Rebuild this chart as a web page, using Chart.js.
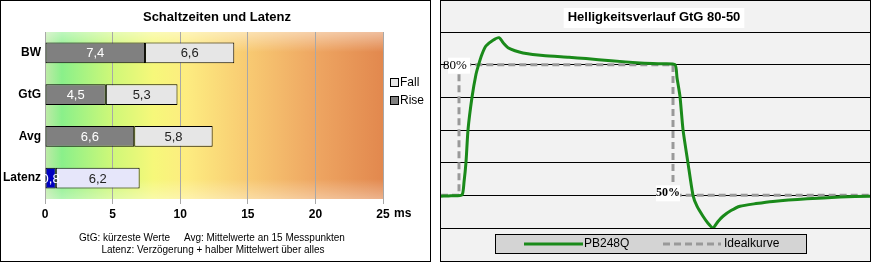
<!DOCTYPE html>
<html>
<head>
<meta charset="utf-8">
<script src="https://cdn.jsdelivr.net/npm/chart.js@4"></script>
<style>
  body { margin: 0; background: #fff; }
  .panel { position: absolute; top: 0; width: 429px; height: 260px; border: 1px solid #000; }
  #left { left: 0; background: #fff; }
  #right { left: 440px; background: #f2f2f2; }
  canvas { display: block; }
</style>
</head>
<body>
<div class="panel" id="left"><canvas id="timesCanvas" width="429" height="260"></canvas></div>
<div class="panel" id="right"><canvas id="curveCanvas" width="429" height="260"></canvas></div>
<script>
// Schaltzeiten (ms)
const categories = ['BW', 'GtG', 'Avg', 'Latenz'];
const riseValues = [7.4, 4.5, 6.6, 0.8];
const fallValues = [6.6, 5.3, 5.8, 6.2];
const xTicks = [0, 5, 10, 15, 20, 25];

// Helligkeitsverlauf (Zeit, Helligkeit in %)
const timeMs = [0, 10, 21, 23, 25, 27, 31, 35, 38, 41, 45, 52, 58, 63, 67, 74, 82, 102, 128, 145, 170, 199, 220, 234,
  236, 239, 242, 247, 252, 256, 262, 267, 272, 277, 282, 290, 299, 315, 332, 366, 399, 429];
const brightness = [49.8, 49.9, 50.1, 53, 57.6, 65, 72.5, 77.8, 80.3, 82.4, 84.3, 85.6, 86.2, 84.8, 83.9, 83.2, 82.7, 82.1, 81.7, 81.4, 80.9, 80.4, 80.2, 80,
  77, 72.7, 65.1, 57.4, 50, 47.5, 45.2, 43.6, 42.5, 44, 45.2, 46.5, 47.5, 48.1, 48.6, 49.2, 49.6, 49.8];
const idealTime = [0, 18, 18, 232, 232, 429];
const idealLevel = [50, 50, 80, 80, 50, 50];

Chart.defaults.font.family = 'Arial, "Liberation Sans", sans-serif';
Chart.defaults.color = '#000';

// ---------- linke Grafik ----------
const barDecor = {
  id: 'barDecor',
  beforeDraw(chart) {
    const { ctx, chartArea: a } = chart;
    const g = ctx.createLinearGradient(a.left, 0, a.right, 0);
    g.addColorStop(0, '#c0eaa8');
    g.addColorStop(0.05, '#8af08a');
    g.addColorStop(0.2, '#cff878');
    g.addColorStop(0.32, '#f6f87a');
    g.addColorStop(0.42, '#fdec80');
    g.addColorStop(0.6, '#f8ca72');
    g.addColorStop(0.8, '#eea662');
    g.addColorStop(1, '#e2884e');
    ctx.save();
    ctx.fillStyle = g;
    ctx.fillRect(a.left, a.top, a.right - a.left, a.bottom - a.top);
    const v = ctx.createLinearGradient(0, a.top, 0, a.bottom);
    v.addColorStop(0, 'rgba(255,255,255,0.45)');
    v.addColorStop(0.12, 'rgba(255,255,255,0)');
    v.addColorStop(0.88, 'rgba(255,255,255,0)');
    v.addColorStop(1, 'rgba(255,255,255,0.35)');
    ctx.fillStyle = v;
    ctx.fillRect(a.left, a.top, a.right - a.left, a.bottom - a.top);
    ctx.restore();
  },
  afterDatasetsDraw(chart) {
    const { ctx } = chart;
    ctx.save();
    ctx.font = '13px Arial, "Liberation Sans"';
    ctx.textAlign = 'center';
    ctx.textBaseline = 'middle';
    chart.data.datasets.forEach((ds, di) => {
      chart.getDatasetMeta(di).data.forEach((el, i) => {
        ctx.fillStyle = di === 0 ? '#fff' : '#222';
        ctx.fillText(String(ds.data[i]).replace('.', ','), (el.x + el.base) / 2, el.y + 1);
      });
    });
    ctx.restore();
  },
  afterDraw(chart) {
    const { ctx, chartArea: a } = chart;
    ctx.save();
    ctx.fillStyle = '#000';
    ctx.textAlign = 'center';
    ctx.textBaseline = 'middle';
    ctx.font = 'bold 13px Arial, "Liberation Sans"';
    ctx.fillText('Schaltzeiten und Latenz', 216, 16);
    ctx.font = '10px Arial, "Liberation Sans"';
    ctx.fillText('GtG: kürzeste Werte     Avg: Mittelwerte an 15 Messpunkten', 211, 237);
    ctx.fillText('Latenz: Verzögerung + halber Mittelwert über alles', 212, 249);
    ctx.font = 'bold 12px Arial, "Liberation Sans"';
    ctx.textAlign = 'left';
    ctx.fillText('ms', a.right + 11, 213);
    // Legende
    ctx.font = '12px Arial, "Liberation Sans"';
    const items = [['Fall', '#e6e6e6', 82], ['Rise', '#808080', 100]];
    items.forEach(([txt, col, y]) => {
      ctx.fillStyle = col;
      ctx.fillRect(389.5, y - 4.5, 8, 8);
      ctx.strokeStyle = '#000';
      ctx.lineWidth = 1;
      ctx.strokeRect(389.5, y - 4.5, 8, 8);
      ctx.fillStyle = '#000';
      ctx.fillText(txt, 399, y);
    });
    ctx.restore();
  }
};

new Chart(document.getElementById('timesCanvas'), {
  type: 'bar',
  data: {
    labels: categories,
    datasets: [
      {
        label: 'Rise',
        data: riseValues,
        backgroundColor: ['#808080', '#808080', '#808080', '#0000c0'],
        borderColor: '#000',
        borderWidth: 1,
        borderSkipped: false,
        barPercentage: 0.5,
        categoryPercentage: 1
      },
      {
        label: 'Fall',
        data: fallValues,
        backgroundColor: ['#e6e6e6', '#e6e6e6', '#e6e6e6', '#e6e6fa'],
        borderColor: '#000',
        borderWidth: 1,
        borderSkipped: false,
        barPercentage: 0.5,
        categoryPercentage: 1
      }
    ]
  },
  options: {
    indexAxis: 'y',
    responsive: false,
    animation: false,
    devicePixelRatio: 1,
    layout: { padding: { top: 31, right: 47, bottom: 37, left: 0 } },
    plugins: { legend: { display: false }, tooltip: { enabled: false }, title: { display: false } },
    scales: {
      x: {
        stacked: true,
        min: 0,
        max: 25,
        afterBuildTicks(scale) { scale.ticks = xTicks.map(v => ({ value: v })); },
        ticks: { font: { size: 12, weight: 'bold' }, padding: 3, color: '#000', maxRotation: 0 },
        grid: { color: '#a8a8a8', lineWidth: 1, tickLength: 5, drawTicks: true },
        border: { display: false },
        afterFit(scale) { scale.height = 25; }
      },
      y: {
        stacked: true,
        ticks: { font: { size: 12, weight: 'bold' }, padding: 4, color: '#000' },
        grid: { display: false, drawTicks: false },
        border: { display: false },
        afterFit(scale) { scale.width = 44; }
      }
    }
  },
  plugins: [barDecor]
});

// ---------- rechte Grafik ----------
const curveDecor = {
  id: 'curveDecor',
  afterDraw(chart) {
    const { ctx, scales } = chart;
    ctx.save();
    // Titel
    ctx.font = 'bold 13px Arial, "Liberation Sans"';
    ctx.textAlign = 'center';
    ctx.textBaseline = 'middle';
    const title = 'Helligkeitsverlauf GtG 80-50';
    const tw = ctx.measureText(title).width;
    ctx.fillStyle = '#fff';
    ctx.fillRect(213 - tw / 2 - 4, 7, tw + 8, 20);
    ctx.fillStyle = '#000';
    ctx.fillText(title, 213, 16);
    // Pegelmarken
    const y80 = scales.y.getPixelForValue(80);
    const y50 = scales.y.getPixelForValue(50);
    ctx.fillStyle = '#fff';
    ctx.fillRect(7, y80 - 7, 22, 16);
    ctx.fillRect(215, y50 - 10, 24, 16);
    ctx.fillStyle = '#000';
    ctx.textAlign = 'left';
    ctx.font = '13px "Liberation Serif", "Times New Roman", serif';
    ctx.fillText('80%', 2, y80 + 1);
    ctx.font = 'bold 12px "Liberation Serif", "Times New Roman", serif';
    ctx.fillText('50%', 215, y50 - 2);
    // Legende
    ctx.fillStyle = '#d4d4d4';
    ctx.fillRect(54.5, 233.5, 311, 19);
    ctx.strokeStyle = '#000';
    ctx.lineWidth = 1;
    ctx.strokeRect(54.5, 233.5, 311, 19);
    ctx.lineWidth = 3;
    ctx.strokeStyle = '#1a8a1a';
    ctx.beginPath(); ctx.moveTo(83, 243); ctx.lineTo(142, 243); ctx.stroke();
    ctx.strokeStyle = '#999';
    ctx.setLineDash([7, 4]);
    ctx.beginPath(); ctx.moveTo(222, 243); ctx.lineTo(280, 243); ctx.stroke();
    ctx.setLineDash([]);
    ctx.fillStyle = '#000';
    ctx.font = '12px Arial, "Liberation Sans"';
    ctx.fillText(chart.data.datasets[0].label, 143, 243);
    ctx.fillText(chart.data.datasets[1].label, 283, 243);
    ctx.restore();
  }
};

new Chart(document.getElementById('curveCanvas'), {
  type: 'line',
  data: {
    datasets: [
      {
        label: 'PB248Q',
        data: timeMs.map((t, i) => ({ x: t, y: brightness[i] })),
        borderColor: '#1a8a1a',
        borderWidth: 3,
        pointRadius: 0,
        tension: 0.2,
        order: 1
      },
      {
        label: 'Idealkurve',
        data: idealTime.map((t, i) => ({ x: t, y: idealLevel[i] })),
        borderColor: '#999',
        borderWidth: 3,
        borderDash: [7, 4],
        pointRadius: 0,
        tension: 0,
        order: 2
      }
    ]
  },
  options: {
    responsive: false,
    animation: false,
    devicePixelRatio: 1,
    layout: { padding: { top: 31, right: 0, bottom: 33, left: 0 } },
    plugins: { legend: { display: false }, tooltip: { enabled: false }, title: { display: false } },
    scales: {
      x: { type: 'linear', min: 0, max: 429, display: false },
      y: {
        min: 42.5,
        max: 87.5,
        ticks: { stepSize: 7.5, display: false },
        grid: { color: '#000', lineWidth: 1, drawTicks: false },
        border: { display: false },
        afterFit(scale) { scale.width = 0; }
      }
    }
  },
  plugins: [curveDecor]
});
</script>
</body>
</html>
